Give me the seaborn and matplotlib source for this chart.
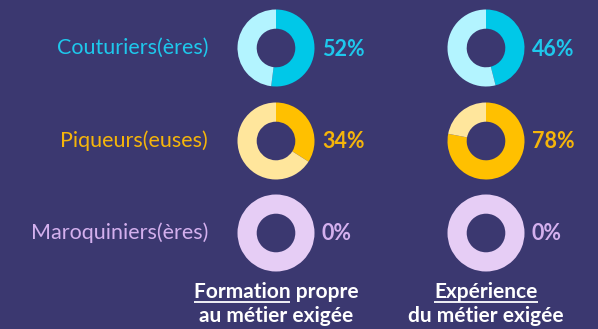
import matplotlib
matplotlib.use("Agg")
import matplotlib.pyplot as plt
import seaborn as sns

sns.set_theme(style="white")
plt.rcParams['font.family'] = ['Lato', 'DejaVu Sans']

# Data
categories = ["Couturiers(ères)", "Piqueurs(euses)", "Maroquiniers(ères)"]
formation = [52, 34, 0]
experience = [46, 78, 0]
column_titles = [("Formation", " propre", "au métier exigée"),
                 ("Expérience", "", "du métier exigée")]

BG = "#3b3870"
dark_cols = ["#00c8e8", "#ffc000", "#e6cdf5"]
light_cols = ["#b3f4ff", "#ffe69c", "#e6cdf5"]
label_cols = ["#1ec8ec", "#f5b50a", "#d4b0ee"]

W, H = 598, 329
fig = plt.figure(figsize=(W / 100, H / 100), dpi=100, facecolor=BG)
ax = fig.add_axes([0, 0, 1, 1])
ax.set_facecolor(BG)

col_x = [276, 486]
row_y = [48, 141, 233]
R = 38.5
ring = 19.2
TFS = 15

for i, cat in enumerate(categories):
    y = H - row_y[i]
    ax.text(208, y, cat, ha="right", va="center", fontsize=15.5,
            color=label_cols[i])
    for j, vals in enumerate([formation, experience]):
        v = vals[i]
        ax.pie([v, 100 - v], colors=[dark_cols[i], light_cols[i]],
               startangle=90, counterclock=False, center=(col_x[j], y),
               radius=R, frame=True,
               wedgeprops=dict(width=ring, linewidth=0, edgecolor="none"))
        ax.text(col_x[j] + 46, y - 1, f"{v}%", ha="left", va="center",
                fontsize=15.5, fontweight="bold", color=label_cols[i])

for j, (u, rest, line2) in enumerate(column_titles):
    cx = col_x[j]
    full = u + rest
    ax.text(cx, H - 298.5, full, ha="center", va="baseline", fontsize=TFS,
            fontweight="bold", color="white")
    ax.text(cx, H - 322, line2, ha="center", va="baseline", fontsize=TFS,
            fontweight="bold", color="white")

ax.set_xlim(0, W)
ax.set_ylim(0, H)
ax.set_aspect("equal")
ax.axis("off")

# underline the first word of each column title
fig.canvas.draw()
renderer = fig.canvas.get_renderer()
for j, (u, rest, line2) in enumerate(column_titles):
    cx = col_x[j]
    full = u + rest
    tmp_full = ax.text(0, 0, full, fontsize=TFS, fontweight="bold")
    tmp_u = ax.text(0, 0, u, fontsize=TFS, fontweight="bold")
    wf = tmp_full.get_window_extent(renderer).width
    wu = tmp_u.get_window_extent(renderer).width
    tmp_full.remove(); tmp_u.remove()
    x0 = cx - wf / 2
    ax.plot([x0, x0 + wu], [H - 301.5, H - 301.5], color="white", lw=1.3,
            solid_capstyle="butt")

ax.set_xlim(0, W)
ax.set_ylim(0, H)
fig.savefig("out.png", dpi=100, facecolor=BG)
